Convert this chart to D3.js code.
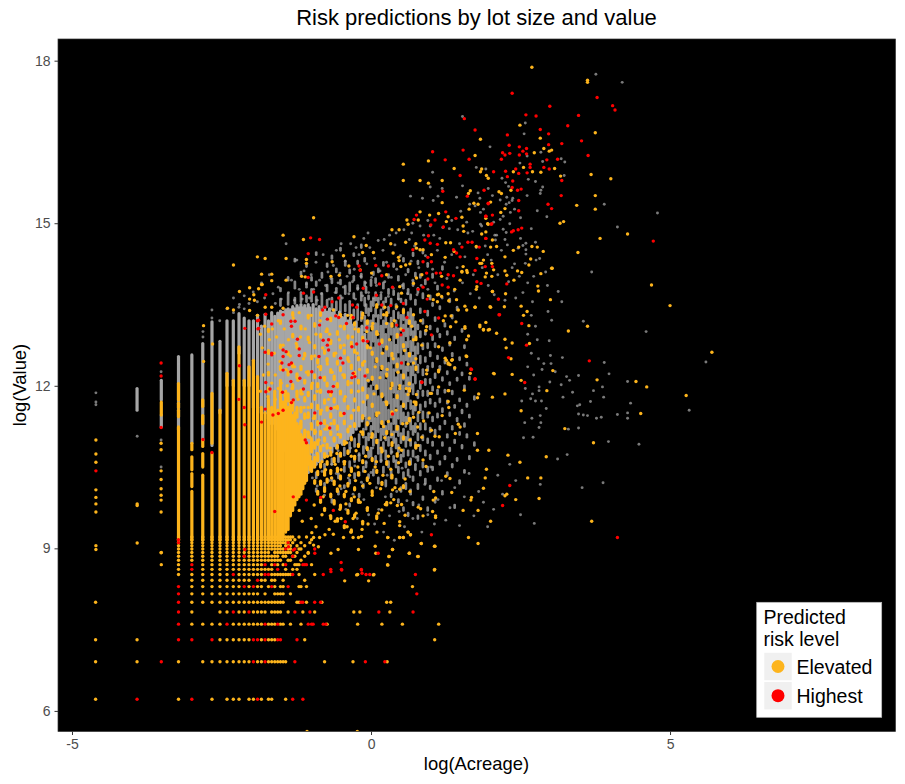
<!DOCTYPE html>
<html>
<head>
<meta charset="utf-8">
<script src="https://cdn.jsdelivr.net/npm/d3@7"></script>
<style>
html,body{margin:0;padding:0;background:#fff;}
svg{display:block;font-family:"Liberation Sans",Arial,sans-serif;}
</style>
</head>
<body>
<svg id="chart" width="905" height="784"></svg>
<script>
// Lot sizes are recorded in hundredths of an acre, values in whole 500-dollar steps at the low end.
const xTicks = [-5, 0, 5];
const yTicks = [6, 9, 12, 15, 18];
const riskLevels = ["Elevated", "Highest"];

// Low-value parcels fall on a regular grid: sale value of each row, and lot sizes (hundredths of an acre) per risk level.
const rowValues = [500,1000,1500,2000,2500,3000,3500,4000,4500,5000,5500,6000,6500,7000,7500,8000,8500,9000,9500,10000];
const rowElevated = [
 [1,4,7,9,10,11,13,14,16,18,19,24],
 [1,2,4,6,7,8,9,10,11,12,13,15,16,18,19,20,21,22,23,24,46,74,131],
 [1,2,8,9,10,11,12,13,16,18,19,20,33,290],
 [5,6,7,8,10,11,12,13,14,15,16,18,19,20,22,23,26,31,48,80,120,169,310],
 [5,8,9,11,12,14,15,16,17,19,20,21,22,25,32,39,75,83,137],
 [1,5,6,7,8,9,10,11,12,13,14,15,16,17,18,19,20,21,22,23,29,30,34,44,130,139],
 [5,6,7,8,9,10,11,12,13,14,15,17,20,21,22,23,26],
 [5,6,7,8,9,10,11,13,15,16,18,20,22,23,30,31,34,200],
 [5,6,7,8,9,10,11,12,13,16,17,19,20,23,33],
 [4,5,6,7,8,9,11,12,13,14,15,16,19,20,21,22,23,24,25,26,30,39,80,105],
 [4,6,7,8,9,10,11,12,13,14,15,16,17,18,19,24,27,29,290],
 [3,4,6,7,8,9,10,11,12,13,14,15,16,19,21,23,28,29,30,37,132],
 [4,5,6,7,8,9,10,11,12,13,14,15,16,17,18,19,20,21,22,25,26,31],
 [4,5,6,7,8,9,10,11,12,13,14,15,16,17,18,19,20,21,23,24,27,28,33],
 [3,4,5,6,7,8,9,10,11,12,13,14,15,16,17,18,20,21,22,23,24,25,26,29,35],
 [4,5,6,7,8,9,10,11,12,13,14,15,16,17,18,19,20,21,22,23,25,26,30,31],
 [4,5,6,7,8,9,10,11,12,13,14,15,16,17,18,19,20,21,22,24,25,26,29,33],
 [4,5,6,7,8,9,10,11,12,13,14,15,16,17,18,19,20,21,22,23,24,25,27,31,36],
 [4,5,6,7,8,9,10,11,12,13,14,15,16,17,18,19,20,21,22,23,24,25,26,28,37],
 [4,5,6,7,8,9,10,11,12,13,14,15,16,17,18,19,20,21,22,23,24,25,26,27,30,34]
];
const rowHighest = [
 [2,5,15,27,32],
 [3,14,17,28,91,126],
 [4,5,7,14,15,17,21,22,29],
 [4,9,17,21,35,37,38,45,47],
 [4,10,13,28,36,114,202],
 [4,31,32,39,43],
 [4,215],
 [4,12,14,19,25],
 [15],
 [10,17,18,27,45,92,98,210],
 [5,21,51,61,85],
 [5,17,20,24,32,33,34],
 [],[12,27],[],[24,28,39],[],[4,25],[],[]
];

// Dense lot-size columns as value extents [lot size, low, high] on the log-value axis.
const grayColumns = [
 [2,11.55,11.95],[3,11.74,12.1],[3,11.24,11.46],[4,11.2,12.54],[5,10.95,12.57],[6,11.0,12.78],
 [7,10.9,13.18],[8,11.5,12.82],[9,12.0,13.2],[10,12.0,13.2],[11,12.6,13.33],[12,12.0,13.25],[13,12.0,13.2],
 [14,11.6,13.2],[15,11.6,13.3],[16,11.5,13.1],[17,11.5,13.32],[18,11.4,13.2],[19,11.3,13.35],[20,11.3,13.28],
 [21,11.2,13.34],[22,11.2,13.38],[23,11,13.36],[24,10.8,13.4],[25,10.8,13.42],[26,10.6,13.4],[27,10.6,13.46],
 [28,10.4,13.42],[29,10.3,13.48],[30,10.2,13.44],[31,10.3,13.5],[32,10.3,13.44],[33,10.3,13.48],[34,10.4,13.42],
 [35,10.4,13.5],[36,10.5,13.44],[38,10.5,13.5],[40,10.55,13.42],[42,10.6,13.46],[44,10.62,13.4],[46,10.7,13.44],
 [48,10.72,13.36],[50,10.8,13.42],[52,10.78,13.34],[54,10.9,13.4],[56,10.85,13.3],[59,10.95,13.36],[62,10.92,13.26],
 [65,11,13.32],[68,11.02,13.2],[71,11.08,13.25],[74,11.14,13.12],[78,11.2,13.18],[82,11.26,13.05],[86,11.35,13.1],[90,11.45,12.95]
];
const elevatedColumns = [
 [3,11.46,11.7],[4,11.74,12.04],[4,11.6,11.68],[4,11.43,11.55],[4,9.15,11.24],
 [5,10.82,10.94],[5,10.45,10.69],[5,10.14,10.38],[5,9.15,10.05],
 [6,11.62,11.74],[6,11.3,11.45],[6,10.88,11.0],[6,10.5,10.75],[6,9.15,10.35],
 [7,10.94,11.86],[7,9.15,10.75],[8,9.15,11.55],[9,9.15,12.23],[10,9.15,12.1],[11,9.15,12.72],
 [12,9.15,12.1],[13,9.15,12.35],[14,9.15,12.47],[15,9.15,12.17],[16,9.15,11.6],[17,9.15,11.5],[18,9.15,11.75],
 [19,9.15,11.6],[20,9.15,11.9],[21,9.15,11.55],[22,9.15,12.1],[23,9.2,11.7],[24,9.3,11.9],[25,9.35,11.6],
 [26,9.6,11.7],[27,9.7,11.45],[28,9.8,11.5],[29,9.9,11.3],[30,9.95,11.25],[31,10.0,11.1],[32,10.1,11.05],[33,10.2,10.95],[34,10.25,10.9],[36,10.45,10.7]
];

// Speckle around and beside the solid block: short runs along a lot-size column as low,high pairs.
const grayRuns = [
 [22,[13.48,13.6,13.75,13.8]],[25,[13.5,13.7,13.95,14.0]],[28,[13.52,13.62,13.8,13.92,14.3,14.34]],[31,[13.55,13.72,14.05,14.1]],
 [34,[13.55,13.66,13.82,13.9,14.2,14.24]],[37,[13.56,13.78,13.95,14.0]],[40,[13.5,13.64,13.85,13.92,14.42,14.46]],[44,[13.46,13.7,14.0,14.08]],
 [48,[13.46,13.58,13.75,13.86,14.2,14.25]],[52,[13.42,13.62,13.9,13.98,14.35,14.4]],[56,[13.4,13.55,13.72,13.8,14.1,14.16]],[60,[13.36,13.66,13.88,13.95,14.5,14.54]],
 [65,[13.38,13.5,13.7,13.84,14.22,14.3]],[70,[13.3,13.56,13.75,13.9,14.08,14.14]],[75,[13.25,13.4,13.62,13.7,13.95,14.02,14.4,14.44]],[80,[13.22,13.5,13.78,13.85,14.25,14.3]],[85,[13.2,13.36,13.58,13.72,14.0,14.06,14.55,14.6]],[90,[13.02,13.28,13.48,13.62,13.85,13.92,14.3,14.35]],
 [40,[10.3,10.4,10.05,10.1]],[46,[10.42,10.55,10.15,10.2]],[52,[10.55,10.65,10.25,10.3,9.85,9.9]],[58,[10.6,10.72,10.3,10.38,10.0,10.05]],[64,[10.72,10.85,10.42,10.5,10.12,10.16]],[70,[10.78,10.95,10.5,10.6,10.2,10.26,9.78,9.82]],[76,[10.88,11.02,10.6,10.7,10.3,10.38]],[82,[10.92,11.1,10.62,10.75,10.35,10.4,9.95,10.0]],[88,[11.05,11.2,10.75,10.88,10.42,10.5,10.12,10.18]],
 [92,[10.5,10.6,10.85,11.05,11.2,11.6,11.75,12.85,13.0,13.18,13.35,13.5,13.72,13.82]],
 [96,[10.3,10.36,10.68,10.8,11.0,11.12,11.3,11.95,12.08,12.72,12.85,13.2,13.3,13.42,13.6,13.66]],
 [100,[10.7,10.85,11.1,11.25,11.35,12.0,12.12,12.98,13.1,13.2,13.38,13.55,13.85,13.95]],
 [104,[10.35,10.45,10.9,11.1,11.2,11.9,12.02,12.7,12.82,13.3,13.48,13.6,14.05,14.1]],
 [108,[10.55,10.7,11.05,11.4,11.52,12.4,12.52,13.15,13.28,13.42,13.58,13.72,13.9,13.98]],
 [113,[10.2,10.3,10.75,11.0,11.15,11.8,11.95,12.85,13.0,13.3,13.5,13.62,14.1,14.16]],
 [118,[10.6,10.85,11.0,11.2,11.32,12.25,12.38,13.1,13.25,13.4,13.6,13.68]],
 [123,[10.4,10.5,10.8,10.95,11.1,11.7,11.82,12.6,12.72,13.2,13.42,13.55,13.8,13.9,14.22,14.28]],
 [128,[10.15,10.25,10.65,10.8,11.0,11.25,11.38,12.1,12.22,12.95,13.08,13.3,13.55,13.62]],
 [134,[10.5,10.6,10.9,11.05,11.2,11.55,11.68,12.42,12.55,13.15,13.35,13.45,13.7,13.78,14.0,14.05]],
 [140,[9.95,10.0,10.3,10.45,10.75,10.85,11.05,11.3,11.42,11.95,12.08,12.8,12.95,13.25,13.5,13.6]],
 [146,[10.6,10.7,10.95,11.15,11.3,11.75,11.88,12.3,12.42,13.05,13.2,13.38,13.68,13.75,14.2,14.25]],
 [152,[10.2,10.28,10.5,10.62,10.85,11.02,11.15,11.5,11.62,12.15,12.28,12.75,12.88,13.2,13.42,13.5]],
 [158,[9.85,9.9,10.4,10.5,10.78,10.9,11.08,11.25,11.4,11.9,12.02,12.5,12.62,13.05,13.25,13.35,13.6,13.7,13.95,14.02]],
 [165,[10.05,10.12,10.6,10.72,10.95,11.12,11.3,11.62,11.75,12.2,12.32,12.9,13.02,13.3,13.55,13.6]],
 [172,[9.7,9.75,10.3,10.4,10.7,10.82,11.0,11.2,11.35,11.5,11.65,12.0,12.12,12.55,12.68,13.12,13.22,13.42,13.8,13.88,14.3,14.35]],
 [179,[10.1,10.2,10.5,10.58,10.88,11.05,11.25,11.42,11.58,11.85,12.0,12.35,12.48,12.8,12.92,13.25,13.5,13.58]],
 [186,[9.6,9.65,10.35,10.45,10.72,10.8,11.0,11.15,11.35,11.5,11.72,12.15,12.28,12.6,12.72,13.05,13.15,13.35,13.7,13.78,14.1,14.15]],
 [194,[10.0,10.08,10.55,10.65,10.9,11.02,11.2,11.4,11.58,11.72,11.95,12.35,12.45,12.82,12.94,13.42,13.6,13.68]],
 [202,[9.8,9.85,10.25,10.32,10.7,10.8,11.1,11.25,11.48,11.62,11.85,12.02,12.2,12.55,12.65,13.0,13.1,13.3,13.85,13.92,14.4,14.45]],
 [210,[10.45,10.55,10.85,10.95,11.15,11.3,11.55,11.7,12.05,12.2,12.4,12.72,12.85,13.18,13.5,13.58,14.02,14.08]],
 [219,[9.55,9.6,10.1,10.18,10.62,10.7,11.0,11.12,11.35,11.48,11.78,11.9,12.25,12.38,12.6,12.78,13.05,13.12,13.72,13.8,14.25,14.3]],
 [228,[10.35,10.42,10.8,10.9,11.2,11.3,11.55,11.65,11.95,12.08,12.42,12.55,12.9,13.0,13.35,13.42,14.0,14.05]],
 [238,[9.9,9.95,10.5,10.58,11.0,11.08,11.4,11.52,11.82,11.9,12.2,12.3,12.68,12.78,13.15,13.22,13.62,13.7,14.45,14.5]],
 [248,[10.2,10.28,10.72,10.8,11.2,11.3,11.62,11.7,12.02,12.12,12.45,12.52,12.95,13.02,13.88,13.95]],
 [258,[9.7,9.75,10.42,10.5,10.95,11.02,11.42,11.5,11.82,11.9,12.28,12.36,12.7,12.78,13.3,13.38,14.2,14.26]],
 [269,[10.1,10.15,10.65,10.72,11.15,11.22,11.68,11.75,12.05,12.12,12.55,12.62,13.05,13.1,13.6,13.66]],
 [280,[10.45,10.5,10.9,10.96,11.35,11.42,11.92,11.98,12.35,12.42,12.85,12.92,13.48,13.52,14.0,14.06]],
 [292,[9.85,9.9,11.1,11.18,11.62,11.68,12.15,12.22,12.72,12.78,13.2,13.26]],
 [304,[10.25,10.3,10.75,10.8,11.42,11.48,11.85,11.92,12.5,12.55,13.0,13.05,13.78,13.84]],
 [316,[10.55,10.6,11.2,11.25,11.7,11.76,12.3,12.36,12.9,12.95,13.42,13.46]],
 [330,[10.0,10.05,10.9,10.95,11.52,11.58,12.1,12.15,12.65,12.7,14.15,14.2]],
 [344,[10.65,10.7,11.3,11.35,11.88,11.92,12.42,12.46,13.1,13.15]],
 [358,[10.35,10.4,11.05,11.1,11.68,11.72,12.22,12.26,12.95,13.0]],
 [373,[10.8,10.85,11.45,11.5,12.02,12.06,12.75,12.8,13.55,13.6]],
 [389,[10.5,10.55,11.2,11.25,11.85,11.9,12.55,12.6,13.25,13.3]],
 [405,[9.75,9.8,10.95,11.0,11.6,11.64,12.3,12.34,12.85,12.9]],
 [422,[10.62,10.66,11.35,11.4,12.1,12.14,13.4,13.45]],
 [440,[10.2,10.25,11.1,11.14,11.72,11.76,12.48,12.52]],
 [458,[10.85,10.9,11.5,11.55,12.2,12.24,13.0,13.04]],
 [477,[10.4,10.44,11.25,11.3,11.95,12.0,12.7,12.74]],
 [497,[11.05,11.1,11.62,11.66,12.38,12.42]],
 [518,[10.65,10.7,11.42,11.46,12.12,12.16]],
 [563,[10.9,10.95,11.75,11.8]]
];

// Elevated speckle laid over the gray: same run format.
const elevatedRuns = [
 [18,[11.9,11.96,12.2,12.25,12.6,12.65,13.0,13.04]],[22,[12.3,12.36,12.7,12.75,13.15,13.2]],[25,[11.72,11.85,12.2,12.26,12.58,12.62]],
 [27,[11.55,11.7,11.95,12.02,12.35,12.4,12.9,12.95,13.3,13.35]],[29,[11.42,11.6,11.8,11.9,12.15,12.22,12.7,12.74]],[31,[11.22,11.35,11.52,11.6,11.85,11.92,12.3,12.36,13.05,13.1]],
 [33,[11.05,11.18,11.4,11.48,11.72,11.78,12.05,12.1,12.55,12.6]],[35,[10.55,10.9,11.05,11.15,11.42,11.5,11.82,11.88,12.2,12.26,12.85,12.9,13.25,13.3]],
 [37,[10.42,10.6,10.78,11.02,11.2,11.28,11.6,11.66,11.95,12.02,12.5,12.55]],[39,[10.2,10.25,10.5,10.68,10.85,10.95,11.12,11.18,11.4,11.46,11.75,11.82,12.15,12.2,12.7,12.74,13.1,13.15]],
 [41,[10.0,10.05,10.36,10.42,10.62,10.72,10.92,11.0,11.28,11.34,11.58,11.64,11.98,12.04,12.42,12.48]],[43,[9.85,9.9,10.18,10.24,10.5,10.56,10.8,10.88,11.1,11.16,11.48,11.54,11.88,11.92,12.3,12.36,12.9,12.95,13.3,13.35]],
 [46,[9.7,9.74,10.05,10.12,10.35,10.42,10.68,10.75,10.98,11.04,11.3,11.36,11.68,11.74,12.1,12.16,12.6,12.65]],[48,[10.22,10.28,10.55,10.6,10.85,10.92,11.2,11.26,11.55,11.6,12.0,12.05,12.45,12.5,13.0,13.05]],
 [51,[9.55,9.6,9.95,10.0,10.38,10.44,10.72,10.78,11.1,11.15,11.42,11.48,11.82,11.88,12.25,12.3,12.78,12.84,13.2,13.25]],[54,[9.82,9.88,10.18,10.24,10.6,10.66,10.98,11.04,11.3,11.36,11.7,11.76,12.12,12.18,12.55,12.6]],
 [57,[9.5,9.55,10.05,10.1,10.42,10.48,10.85,10.9,11.2,11.26,11.58,11.62,11.98,12.04,12.4,12.45,12.95,13.0]],[60,[9.75,9.8,10.28,10.34,10.7,10.76,11.05,11.1,11.45,11.5,11.85,11.9,12.28,12.34,12.7,12.74,13.28,13.32]],
 [64,[9.38,9.42,9.95,10.0,10.55,10.6,10.92,10.98,11.3,11.35,11.72,11.76,12.15,12.2,12.6,12.65,13.05,13.1]],[68,[9.65,9.7,10.15,10.2,10.75,10.8,11.15,11.2,11.58,11.62,12.02,12.08,12.48,12.52,12.88,12.92]],
 [72,[9.3,9.34,9.88,9.92,10.42,10.48,11.0,11.05,11.4,11.45,11.88,11.92,12.32,12.38,12.75,12.8,13.25,13.3]],[76,[9.58,9.62,10.08,10.12,10.65,10.7,11.25,11.3,11.72,11.76,12.2,12.25,12.62,12.66,13.12,13.16]],
 [81,[9.85,9.9,10.35,10.4,10.88,10.92,11.55,11.6,12.05,12.1,12.48,12.52,13.0,13.04]],[87,[9.45,9.5,10.58,10.62,11.1,11.15,11.4,11.45,11.92,11.96,12.38,12.42,12.85,12.9,13.3,13.34]],
 [94,[9.7,9.74,10.25,10.3,10.82,10.86,11.28,11.32,11.78,11.82,12.25,12.3,12.7,12.74,13.15,13.2]],[102,[10.02,10.06,10.62,10.66,11.08,11.12,11.62,11.66,12.12,12.16,12.58,12.62,13.05,13.1]],
 [110,[9.55,9.6,10.4,10.44,10.95,11.0,11.45,11.5,11.95,12.0,12.45,12.5,12.95,13.0,13.45,13.5]],[120,[10.18,10.22,10.78,10.82,11.3,11.34,11.8,11.85,12.32,12.36,12.8,12.85]],
 [130,[9.8,9.85,10.55,10.6,11.12,11.16,11.65,11.7,12.18,12.22,12.68,12.72,13.3,13.35]],[142,[10.3,10.35,10.9,10.95,11.48,11.52,12.0,12.05,12.55,12.6,13.1,13.15]],
 [155,[10.7,10.75,11.2,11.25,11.78,11.82,12.35,12.4,12.9,12.95]],[172,[10.12,10.16,11.02,11.06,11.62,11.66,12.15,12.2,12.72,12.76,13.35,13.4]],
 [190,[10.55,10.6,11.35,11.4,11.9,11.95,12.55,12.6,13.15,13.2]],[212,[10.85,10.9,11.65,11.7,12.3,12.35,12.85,12.9]]
];

// Individually read parcels, stored as flat acreage,value pairs on the log scales.
const grayPoints = [
 3.76,17.75,4.2,17.6,1.53,16.97,2.58,16.85,2.56,16.65,1.99,16.41,2.61,16.24,2.84,16.31,2.87,16.14,3.18,16.19,3.24,16.13,2.49,16.11,1.76,16.03,1.92,16,1.03,15.94,2.19,15.83,2.63,15.81,2.75,15.77,3.23,15.88,2.25,15.75,2.87,15.67,2.84,15.61,2.83,15.55,2.3,15.68,1.53,15.69,1.19,15.64,.99,15.67,1.96,15.64,.66,15.5,.86,15.46,1.12,15.5,1.04,15.42,1.43,15.48,1.79,15.56,1.82,15.46,2.03,15.51,2.61,15.51,2.27,15.48,2.37,15.46,2.36,15.42,2.16,15.43,2.31,15.38,2.26,15.35,2.78,15.23,2.94,15.12,3.9,15.35,4.79,15.19,4.12,14.93,2.4,15.26,2.33,15.2,2.21,15.13,2.16,15.07,2.32,14.99,1.83,15.2,1.88,15.26,1.74,15.32,1.83,14.98,2.07,14.78,2.08,14.69,2.24,14.7,2.21,14.89,2.26,14.83,2.59,14.63,2.54,14.59,2.46,14.54,2.59,14.51,2.59,14.43,2.82,14.35,2.76,14.32,2.58,14.26,
 3.69,14.1,3.13,13.74,3.19,13.55,2.96,13.37,3.02,13.21,3.55,13.19,4.6,13,2.98,12.83,3,12.56,3.2,12.52,2.89,12.41,3.01,12.41,2.86,12.3,3.08,12.26,3.9,12.43,3.98,12.22,3.47,12.19,3.27,12.17,3.32,12.1,2.99,12.07,3.18,12.02,2.81,11.98,2.81,11.91,3.37,11.88,3.72,11.91,3.87,11.98,4.29,12.08,3.89,11.79,3.21,11.79,2.67,11.76,2.75,11.72,2.85,11.72,3.67,11.71,4.34,11.68,3.45,11.63,3.49,11.65,2.93,11.58,5.32,11.55,5.6,12.44,3.47,11.48,3.55,11.46,3.62,11.45,3.77,11.4,3.85,11.42,4.12,11.47,4.29,11.5,4.29,11.4,2.83,11.45,2.84,11.32,2.81,11.23,2.69,11.4,2.57,11.32,2.55,11.04,2.71,11.05,3.3,11.2,3.47,11.22,3.97,10.97,4.48,10.92,3.12,10.65,3.28,10.73,3.88,10.21,3.53,10.12,2.83,10.18,2.73,9.46,
 // upper fringe of the core
 -2.3,13.62,-2.2,13.5,-2.12,13.66,-2.04,13.52,-1.97,13.73,-1.9,13.55,-1.83,13.9,-1.78,13.62,-1.7,14.05,-1.64,13.7,-1.6,13.52,-1.55,13.82,-1.5,13.6,-1.42,14.62,-1.38,13.72,-1.33,13.95,-1.28,13.58,-1.24,14.32,-1.2,13.78,-1.15,13.6,-1.12,14.12,-1.08,13.88,-1.03,13.62,-1.0,14.05,-.96,13.78,-.92,14.28,-.9,13.58,-.86,13.95,-.83,13.7,-.8,14.42,-.76,13.85,-.72,14.1,-.7,13.6,-.67,13.98,-.63,14.22,-.6,13.72,-.58,14.5,-.55,13.9,-.52,14.08,-.48,13.62,-.46,13.82,-.43,14.3,-.4,14.02,-.37,13.7,-.34,14.62,-.31,13.92,-.28,14.15,-.26,13.6,-.22,13.8,-.2,14.42,-.17,14.02,-.14,13.66,-.12,14.72,-.09,13.9,-.07,14.25,-.04,13.72,-.02,14.55,.01,14.0,.04,13.62,.06,14.35,.09,13.85,.12,14.68,.15,14.12,.17,13.72,.2,14.5,.23,13.92,.26,14.28,.29,13.65,.31,14.78,.34,14.0,.37,13.8,.4,14.6,.43,14.15,.46,13.6,.49,14.4,.52,13.85,.55,14.88,.58,14.05,.61,13.7,.64,14.7,.67,14.3,.7,13.95,.73,14.58,.77,13.68,.8,14.18,.84,13.85,.88,14.78,.91,14.4,.95,13.78,.99,14.95,1.03,14.15,1.07,13.9,1.11,14.5,1.15,14.72,1.19,13.62,1.23,14.28,1.27,13.98,1.31,14.9,1.35,14.42,1.39,13.75,1.44,14.18,1.48,14.62,1.53,13.9,1.57,14.38,1.62,14.82,1.66,13.7,1.71,14.05,1.76,14.55,1.81,13.62,1.86,14.18,1.91,14.58,1.96,13.85,2.01,14.32,2.06,13.68,2.12,14.05,2.18,14.5,2.24,13.58,2.3,13.92,2.36,14.18,2.42,13.62,2.48,14.02,2.54,13.72,2.62,13.9,2.7,13.55,
 1.7,14.85,1.85,14.95,1.95,14.42,2.1,14.78,2.28,14.6,2.4,14.25,2.5,14.72,1.45,14.88,1.6,15.02,1.2,14.92,1.05,14.78,.82,14.95,.68,14.82,.42,14.82,.22,14.7,-.05,14.82,-.25,14.55,-.5,14.62,.7,15.0,.95,15.05,1.35,15.05,1.5,15.22,1.65,15.35,2.05,15.02,2.5,15.1,2.68,14.9,2.75,14.65,2.92,14.1,2.95,13.85,2.72,14.02,2.68,13.3,2.75,13.1,2.62,12.95,2.78,12.85,2.68,12.6,2.8,12.5,2.62,12.35,2.72,12.2,2.58,11.95,2.7,11.85,2.52,11.72,
 // lower fringe under the core and lower-right tail
 -1.05,10.55,-.98,10.3,-.95,10.72,-.9,10.15,-.86,10.62,-.82,10.42,-.78,9.98,-.75,10.75,-.7,10.25,-.66,10.55,-.62,9.88,-.58,10.38,-.55,10.8,-.5,10.1,-.46,10.6,-.42,9.72,-.38,10.3,-.34,10.85,-.3,10.0,-.27,10.52,-.23,9.55,-.2,10.72,-.16,10.22,-.12,9.9,-.08,10.58,-.04,9.62,0,10.4,.03,10.85,.06,9.45,.09,10.12,.13,9.72,.17,10.62,.21,9.3,.24,9.95,.27,10.35,.31,9.6,.35,10.78,.39,9.15,.43,10.05,.47,9.68,.52,10.48,.56,9.4,.6,9.88,.65,10.32,.7,9.55,.75,10.68,.8,9.8,.85,9.3,.9,10.18,.95,9.62,1.0,10.5,1.06,9.45,1.12,9.9,1.18,10.25,1.25,9.52,1.32,9.75,1.4,10.12,1.48,9.42,1.56,9.95,1.64,10.38,1.72,9.6,1.8,10.05,1.88,9.85,1.95,9.4,2.05,9.72,2.12,10.35,2.2,10.0,2.32,10.55,2.42,10.25,2.5,9.62,
 // thin parcels left of the core
 -4.6,11.87,-4.6,11.7,-4.6,11.65,-3.91,11.07,-3.51,12.26,-3.51,11.0,-3.51,10.5,-3.22,12.4,-2.81,13,-2.81,12.9,-2.66,13.4,-2.66,13.25,-2.53,13.2,-2.41,13.42,-2.3,13.35,-2.21,13.45,-2.12,13.42
];

const elevatedPoints = [
 2.69,17.88,3.62,17.64,3.62,17.6,3.75,16.67,2.49,16.81,1.83,16.55,1.74,16.25,2.83,16.57,2.73,16.3,2.89,16.38,2.98,16.33,3.02,16.35,1.39,16.01,.96,16.15,.54,16.09,.54,15.79,.82,15.79,1.19,15.79,.96,15.74,3.07,16.01,2.84,15.94,2.7,15.95,2.55,16.03,2.38,15.95,1.85,16,1.83,15.95,1.93,15.88,1.96,15.83,3.17,15.87,3.68,15.9,4.01,15.82,3.75,15.51,3.44,15.33,3.75,15.26,3.16,15,3.22,15.03,3.83,14.72,4.29,14.8,3.46,14.46,3.03,14.17,
 1.66,15.6,1.63,15.55,2.14,15.58,2.18,15.55,2.34,15.61,1.64,15.26,1.72,15.37,1.79,15.35,2.0,15.39,2.24,15.27,2.17,15.2,1.92,15.09,1.96,14.98,1.92,14.84,1.85,14.8,1.76,14.57,2.0,14.56,2.1,14.57,2.69,14.57,2.78,14.56,2.47,14.56,2.38,14.5,2.88,14.48,2.67,14.34,2.24,14.38,2.02,14.26,1.85,14.26,
 .6,15.06,.62,14.98,.82,15.21,.98,15.15,.79,15.06,1.13,15.18,1.19,15.38,1.29,15.12,1.26,15.03,1.52,15.11,1.54,14.95,1.55,14.85,1.95,14.99,2.03,14.69,1.25,14.64,1.33,14.64,.75,14.62,.76,14.54,.82,14.51,.87,14.51,.35,14.88,.47,14.88,.33,14.62,.58,14.65,-.08,14.59,-.14,14.46,.04,14.46,.37,14.45,.46,14.37,.47,14.31,.5,14.2,.58,14.23,.65,14.25,.26,14.05,-.18,14.14,.01,14.08,1.24,14.37,1.39,14.48,1.54,14.2,1.6,14.13,1.52,14.11,1.18,14.02,.76,13.99,.48,13.83,.51,13.71,.71,13.89,.85,14.05,1.01,14.42,1.18,13.65,1.11,13.68,1.04,13.59,1.43,13.59,1.49,13.95,1.77,13.83,1.93,14.08,1.88,14.32,1.82,14.26,2.05,14.14,2.03,13.74,1.99,13.46,1.6,13.4,1.74,13.45,1.46,13.4,1.57,13.09,1.82,13.09,1.88,13.03,1.96,13.03,2.1,12.97,1.6,12.85,1.32,12.79,1.13,12.72,.85,12.75,.71,12.85,.93,13.09,.92,13.02,.71,13.31,.43,13.46,.26,13.15,.21,13.31,1.24,12.51,1.29,12.42,1.36,12.48,1.32,12.39,1.13,12.29,.93,12.29,.93,12.22,1.6,12.54,1.66,12.23,.99,11.86,1.29,11.91,1.56,11.92,.64,12.05,1.8,11.85,2.05,12.23,.71,12.42,
 4.69,13.86,5,13.48,5.7,12.62,5.27,11.82,4.43,12.08,4.61,11.98,4.51,11.49,3.78,12.11,3.72,10.95,3.24,11.21,2.93,10.69,3.3,13.01,3.62,13.1,3,13.59,3.02,14.17,2.84,14.07,2.79,13.84,2.8,13.75,3.69,9.5,2.81,9.92,2.84,10.3,2.62,10.3,2.94,11.91,3.04,12.28,2.51,12.1,2.36,12.21,2.06,12.22,2.51,11.54,2.24,11.85,2.03,11.79,1.78,11.78,2.65,12.78,2.55,13.3,2.61,13.37,2.64,13.11,2.51,13.47,2.24,12.86,2.36,12.79,2.26,12.7,2.34,12.5,2.42,9.9,2.24,9.97,2.27,10,1.68,9.94,1.67,9.89,2.49,10.59,2.29,10.72,1.93,10.46,1.91,10.3,1.88,10.11,1.97,10.81,1.78,10.81,2,9.5,1.79,9.7,1.54,9.7,1.79,9.09,1.63,9.2,1.06,9.04,.84,9.09,.64,8.91,.36,8.98,.3,8.85,.78,8.85,.48,9.2,.54,9.2,.28,9.2,.66,9.25,.62,9.3,
 1.26,12.47,1.35,12.47,1.29,12.4,1.59,12.55,1.4,12.33,1.13,12.26,1.13,11.98,1.3,11.91,1.01,11.86,.76,11.84,.62,11.84,.48,11.95,.48,12,.64,12.03,1.29,11.71,1.3,11.6,.97,11.5,.8,11.51,1.19,11.45,.71,11.42,.6,11.31,.29,11.34,.78,11.24,1.01,11.18,1.46,11.29,1.49,11.24,1.41,11.12,1.78,11.12,1.07,11.07,1.14,11.06,.85,11.05,.23,11.04,.51,10.81,.46,10.58,.87,10.63,.92,10.51,.33,10.46,.57,10.28,1.25,10.33,1.32,10.29,.48,10.09,.4,10.12,.36,10.08,.65,10.05,1.05,10.05,1.35,10.03,1.04,9.89,1.08,9.93,.38,9.9,.33,9.84,.24,9.81,.51,9.81,.44,9.79,.79,9.76,.83,9.73,1.03,9.68,1.08,9.6,1.08,9.57,.87,9.6,.57,9.61,.48,9.49,.48,9.42,.22,9.46,.18,9.71,
 1.82,13.12,1.92,13.17,1.88,13.04,1.98,13.04,1.63,12.92,1.57,13.06,1.42,13.18,1.33,13.09,1.21,13.2,1.24,13.29,1.34,13.29,1.74,13.45,2,13.45,2.23,13.46,1.57,13.47,2.25,13.7,1.76,13.78,2.03,13.74,2.24,14.12,2.27,14.04,2.39,13.95,2.45,14.12,2.52,14.09,2.64,14.23,1.91,14.01,2.02,14.02,1.52,14.1,1.61,14.09,1.4,13.78,1.29,13.7,1.13,13.69,.96,13.66,1.11,13.55,1.3,13.57,
 // fringe above the stripes
 -2.8,13.11,-2.4,13.43,-2.3,13.4,-2.2,13.74,-2.03,13.81,-2.03,13.6,-1.96,13.68,-1.95,13.58,-1.88,13.79,-1.82,13.87,-2.03,13.39,-1.77,13.45,-1.66,13.45,-1.47,13.43,-2.65,12.77,-2.8,12.45,-.96,15.1,-1.47,14.78,-1.13,14.7,-.285,14.75,-1.9,14.38,-1.77,14.35,-1.42,14.35,-2.3,14.23,-1.08,14.33,-1.08,14.26,-.65,14.29,-.46,14.4,-1.83,14.06,-1.66,14.06,-1.66,13.94,-1.83,13.87,-1.42,13.95,-1.16,14.02,-1.1,14.01,-.67,14.02,-.53,14.04,-.37,14.21,
 // core overlay
 -1.9,13.3,-1.85,12.95,-1.82,12.7,-1.78,13.1,-1.72,12.4,-1.7,12.85,-1.65,13.05,-1.62,12.6,-1.6,12.2,-1.58,12.9,-1.55,13.2,-1.52,12.45,-1.5,12.05,-1.47,12.75,-1.45,13.05,-1.42,12.3,-1.4,12.0,-1.38,12.85,-1.35,12.55,-1.32,11.95,-1.3,13.25,-1.28,12.35,-1.25,12.78,-1.22,12.1,-1.2,13.35,-1.18,12.9,-1.15,11.85,-1.13,12.5,-1.1,13.05,-1.08,12.25,-1.05,11.6,-1.03,12.8,-1.0,13.3,-.98,12.05,-.96,11.4,-.94,12.55,-.92,12.95,-.9,11.9,-.88,12.35,-.85,13.2,-.83,11.55,-.81,12.7,-.79,12.15,-.77,11.2,-.75,13.0,-.73,12.4,-.71,11.75,-.69,12.95,-.67,11.3,-.65,12.25,-.63,13.4,-.61,11.6,-.59,12.6,-.57,12.0,-.55,11.1,-.53,12.85,-.51,13.1,-.49,11.45,-.47,12.2,-.45,12.75,-.43,11.8,-.41,10.95,-.39,13.3,-.37,12.45,-.35,11.25,-.33,12.05,-.31,12.9,-.29,11.55,-.27,13.05,-.25,10.8,-.23,12.6,-.21,11.9,-.19,12.3,-.17,11.15,-.15,13.25,-.13,11.7,-.11,12.45,-.09,10.7,-.07,13.0,-.05,12.1,-.03,11.4,-.01,12.7,.01,11.05,.03,13.15,.05,11.85,.07,12.35,.09,10.6,.11,12.95,.13,11.5,.15,12.15,.17,10.85,.19,12.6,.21,11.25,.23,13.45,.25,11.7,.27,12.3,.29,10.7,.31,12.85,.33,11.95,.35,11.1,.37,12.5,.39,13.2,.42,11.55,.45,12.25,.47,10.85,.5,13.05,.53,11.3,.56,12.65,.59,11.95,.62,12.4,.65,11.0,.68,13.1,.72,11.7,.75,12.5,.79,10.9,.83,13.2,.88,11.35,
 -1.85,11.9,-1.8,12.2,-1.72,11.8,-1.66,12.05,-1.6,11.75,-1.55,11.95,-1.5,11.7,-1.44,11.82,-1.4,11.6,-1.34,11.7,-1.26,11.45,-1.22,11.75,-1.18,11.3,-1.12,11.6,-1.1,11.15,-1.06,11.42,-1.02,11.05,-1,11.3,-.97,10.9,-.93,11.15,-.9,10.75,-.87,11.0,-.82,10.6,-.8,10.9,-.76,10.45,-.73,10.7,-.68,10.85,-.66,10.3,-.6,10.55,-.57,10.75,-.52,10.15,-.5,10.45,-.44,10.6,-.42,10.05,-.36,10.35,-.33,10.7,-.28,9.95,-.26,10.25,-.22,10.5,-.18,9.85,-.14,10.15,-.1,10.42,-.06,9.75,-.02,10.2,.02,9.98,.07,10.5,.12,9.65,.16,10.1,.2,10.35,
 // scattered near the low-value edge
 .28,9.2,.48,9.2,.54,9.2,.62,9.3,.66,9.25,.84,9.09,1.07,9.04,.07,9.04,.36,8.98,.3,8.85,.28,8.69,.64,8.91,.79,8.85,1.06,8.6,.08,8.91,-.16,9.22,-.21,9.2,-.3,9.2,-.46,9.2,-.34,9.3,-.63,9.26,-.77,9.25,-.86,9.2,-.99,9.29,-.96,9.2,-.55,8.98,-.21,8.98,-.67,8.91,-.88,9.03,-.96,9.06,-1.05,8.91,-.24,8.51,.04,8.51,-.04,8.4,-.44,8.4,-1.07,5.62,-.23,5.62,
 -1.0,9.55,-.92,9.4,-.82,9.62,-.7,9.35,-.6,9.5,-.52,9.72,-.4,9.4,-.3,9.55,-.15,9.35,-.05,9.45,.1,9.3,-1.15,9.5,-1.2,9.7,-.95,9.8,-.8,9.95,-.68,9.6,-.5,9.55,-.42,9.82,-.25,9.65,
 // isolated low-density lot sizes
 -4.6,11,-4.6,10.74,-4.6,10.59,-4.6,10.08,-4.6,9.94,-4.6,9.82,-4.6,9.67,-4.6,9.05,-4.6,8.98,-3.91,9.79,-3.91,9.82,-3.91,9.1,-3.51,10.94,-3.51,10.82,-3.51,10.43,-3.51,10.27,-3.51,10.1,-3.51,9.98,-3.51,9.89,-3.51,9.67,-3.51,8.92
];

const highestPoints = [
 2.36,17.4,2.99,17.16,3.78,17.32,4.04,17.17,4.08,17.09,3.47,16.99,2.59,17,2.76,16.98,1.56,16.93,3.29,16.8,1.74,16.72,2.83,16.73,2.97,16.65,2.28,16.63,3.52,16.52,3.19,16.47,2.31,16.44,2.97,16.45,2.48,16.41,2.6,16.38,2.54,16.33,2.6,16.28,1.54,16.35,1.03,16.32,1.24,16.17,1.64,16.18,2.2,16.3,2.24,16.26,2.32,16.29,2.48,16.26,2.18,16.18,3.63,16.25,3.12,16.18,2.94,16.17,2.66,16.09,2.66,16.03,2.89,16.03,2.98,16,2.42,16,2.25,15.96,2.47,15.92,2.61,15.93,2.05,15.95,1.49,15.88,2.28,15.86,2.37,15.78,3.19,15.79,2.36,15.66,2.45,15.61,2.51,15.63,1.89,15.61,1.2,15.59,1.61,15.5,2.47,15.42,3.18,15.51,2.96,15.35,3.02,15.27,1.96,15.36,2.47,15.23,2.03,15.15,1.92,15.13,2.01,14.98,2.52,14.91,2.46,14.88,2.38,14.86,2.35,14.84,1.92,14.72,4.72,14.67,
 -1.76,13.68,-1.76,13.32,-1.9,13.2,-1.89,13.05,-1.66,13.14,-1.47,13.31,-1.34,13.19,-1.27,13.19,-1.33,13.1,-.86,13.12,-1.23,12.86,-1.47,12.66,-1.42,12.63,-1.2,12.68,-1.2,12.56,-1.47,12.54,-1.37,12.39,-1.33,12.42,-1.34,12.26,-1.49,12.42,-1.47,12.29,-1.01,14.73,-.86,14.7,-1.05,14.44,
 -.99,12.26,-.87,12.54,-.71,12.66,-.73,12.75,-.8,12.84,-.71,12.85,-.73,13.23,-.81,13.4,-.77,13.45,-.59,13.29,-.54,13.26,-.41,13.15,-.3,13.26,-.54,13.62,-.65,13.55,-.31,13.49,-.24,13.45,-.13,13.8,.14,13.88,.18,14.03,-.18,14.13,-.2,14.21,.08,14.22,.29,14.21,.36,13.82,.54,13.52,.33,13.48,.18,13.49,.09,13.67,-.96,13.73,-1.13,13.71,-1.05,14,-.07,13.07,-.06,12.82,-.13,12.83,-.24,12.77,-.32,12.72,.14,12.77,.6,13.26,.43,13.12,.54,13.02,.5,12.94,.51,12.42,.85,12.07,1.01,12.94,1.67,12.31,1.74,12.13,1.13,13.25,.9,13.37,.94,13.6,.95,13.97,.87,13.82,.79,13.78,.87,14.29,.95,14.37,1.01,14.29,1.11,14.61,.99,14.63,.9,14.69,1.16,14.08,1.09,14.08,.93,14.08,1.29,14.05,1.38,14.03,1.49,14.38,1.38,14.51,1.43,14.45,1.52,14.56,1.62,14.65,1.69,14.65,1.81,14.56,1.92,14.72,2.02,14.99,1.92,15.13,1.96,15.37,1.77,14.35,1.74,14.13,1.91,14.2,2.03,14.2,1.77,13.92,1.84,13.89,1.19,13.86,1.29,13.82,.76,15.15,1.07,15.06,1.25,15.21,1.42,15.09,1.21,14.93,.96,14.77,1,14.97,.72,15.07,.7,14.51,2.13,13.6,2.14,13.31,
 -1.34,12.08,-1.76,12.06,-1.76,11.89,-1.69,11.94,-1.48,11.88,-1.13,11.94,-.71,11.89,-.66,11.89,-.63,11.99,-.51,12.51,-.47,12.42,-.3,12.23,-.27,12.17,-.1,12.18,-.32,12.15,-.85,12.15,-1.19,12.14,-1.66,12.6,
 -1.3,11.74,-1.33,11.69,-1.77,11.57,-1.64,11.46,-1.55,11.49,-1.47,11.55,-.94,11.5,-.67,11.58,-.84,11.31,-.69,11.22,-.45,11.49,-1.1,11,-1.08,10.95,-1.3,9.95,-.63,9.7,-.43,9.49,-.84,9.94,-1.08,9.89,-1.61,9.68,-1.83,11.33,-2.11,11.28,-2.2,12.37,-2.11,13.06,-1.88,13.21,-1.88,13.06,-1.77,12.62,-1.66,12.57,
 3.65,12.46,4.12,9.2,2.57,12.06,2.32,10.16,2.2,9.79,1.01,9.25,2.3,12.52,2.6,12.75,2.52,13.15,2.15,13.31,2.13,13.6,1.68,12.3,1.74,12.12,2.27,13.88,.85,12.06,.36,11.48,
 .12,8.91,-.49,8.6,-.16,8.6,-.67,8.57,-.5,8.74,-.94,8.91,-1.38,9.03,-2.11,8.98,-1.3,8.97,-.15,8.54,
 -3.51,12.42,-3.51,12.18,-3.51,11.23,-2.81,11.01,-2.66,10.77,-4.6,10.43,-3.22,9.16,-2.21,11.75,-2.12,11.6,-2.12,9.95
];

const pairs = flat => d3.range(0, flat.length, 2).map(i => [flat[i], flat[i + 1]]);
const lotLog = k => Math.log(k / 100);
const unpackRuns = runs => runs.flatMap(([k, ends]) => pairs(ends).map(([lo, hi]) => [k, lo, hi]));

const margin = {left: 58, right: 895.5, top: 39, bottom: 731.5};
const x = d3.scaleLinear().domain([-5.234, 8.77]).range([margin.left, margin.right]);
const y = d3.scaleLinear().domain([5.62, 18.4]).range([margin.bottom, margin.top]);
const riskColor = d3.scaleOrdinal().domain(riskLevels).range(["#fdb41c", "#ff0000"]);

const svg = d3.select("#chart");
svg.append("defs").append("clipPath").attr("id", "panel").append("rect")
  .attr("x", margin.left).attr("y", margin.top)
  .attr("width", margin.right - margin.left).attr("height", margin.bottom - margin.top);

svg.append("rect").attr("x", margin.left).attr("y", margin.top)
  .attr("width", margin.right - margin.left).attr("height", margin.bottom - margin.top)
  .attr("fill", "#000");

const plot = svg.append("g").attr("clip-path", "url(#panel)");

function drawColumns(rows, color, opacity, width) {
  plot.append("g").selectAll("line").data(rows).join("line")
    .attr("x1", d => x(lotLog(d[0]))).attr("x2", d => x(lotLog(d[0])))
    .attr("y1", d => y(d[1])).attr("y2", d => y(d[2]))
    .attr("stroke", color).attr("stroke-opacity", opacity)
    .attr("stroke-width", width).attr("stroke-linecap", "round");
}

// Gray layer: lower-risk parcels, translucent so that overlaps brighten.
drawColumns(grayColumns, "#a6a6a6", 1, 3.2);
drawColumns(unpackRuns(grayRuns), "#a9a9a9", 0.8, 2.7);
plot.append("g").selectAll("circle").data(pairs(grayPoints)).join("circle")
  .attr("cx", d => x(d[0])).attr("cy", d => y(d[1])).attr("r", 1.45)
  .attr("fill", "#a9a9a9").attr("fill-opacity", 0.72);

// Elevated layer.
const elevated = riskColor("Elevated");
drawColumns(elevatedColumns, elevated, 1, 3.2);
drawColumns(unpackRuns(elevatedRuns), elevated, 1, 3.2);

const gridCells = (lists) => rowValues.flatMap((v, i) => lists[i].map(k => [lotLog(k), Math.log(v)]));
plot.append("g").selectAll("circle")
  .data(gridCells(rowElevated).concat(pairs(elevatedPoints))).join("circle")
  .attr("cx", d => x(d[0])).attr("cy", d => y(d[1])).attr("r", 1.7).attr("fill", elevated);

// Highest layer sits on top.
plot.append("g").selectAll("circle")
  .data(gridCells(rowHighest).concat(pairs(highestPoints))).join("circle")
  .attr("cx", d => x(d[0])).attr("cy", d => y(d[1])).attr("r", 1.7).attr("fill", riskColor("Highest"));

svg.append("rect").attr("x", margin.left).attr("y", margin.top)
  .attr("width", margin.right - margin.left).attr("height", margin.bottom - margin.top)
  .attr("fill", "none").attr("stroke", "#333").attr("stroke-width", 0.7);

// Axes
const xAxis = svg.append("g").attr("transform", `translate(0,${margin.bottom})`)
  .call(d3.axisBottom(x).tickValues(xTicks).tickSize(3.5).tickPadding(4).tickFormat(d3.format("d")));
const yAxis = svg.append("g").attr("transform", `translate(${margin.left},0)`)
  .call(d3.axisLeft(y).tickValues(yTicks).tickSize(3.5).tickPadding(4));
[xAxis, yAxis].forEach(a => {
  a.select(".domain").remove();
  a.selectAll(".tick line").attr("stroke", "#333").attr("stroke-width", 1);
  a.selectAll(".tick text").attr("fill", "#4d4d4d").style("font-size", "14px").style("font-family", "inherit");
});
xAxis.selectAll(".tick text").text(d => d < 0 ? "-" + Math.abs(d) : d);

svg.append("text").attr("x", 476.5).attr("y", 25).attr("text-anchor", "middle")
  .style("font-size", "22px").text("Risk predictions by lot size and value");
svg.append("text").attr("x", 476.5).attr("y", 770).attr("text-anchor", "middle")
  .style("font-size", "18.4px").text("log(Acreage)");
svg.append("text").attr("transform", "translate(26,385) rotate(-90)").attr("text-anchor", "middle")
  .style("font-size", "18.4px").text("log(Value)");

// Legend
const legend = svg.append("g");
legend.append("rect").attr("x", 756.7).attr("y", 602.3).attr("width", 125).attr("height", 115)
  .attr("fill", "#fff").attr("stroke", "#bbb").attr("stroke-width", 0.7);
legend.append("text").attr("x", 763.5).attr("y", 624).style("font-size", "19.5px").text("Predicted");
legend.append("text").attr("x", 763.5).attr("y", 646).style("font-size", "19.5px").text("risk level");
riskLevels.forEach((name, i) => {
  const top = 652.8 + i * 29.2;
  legend.append("rect").attr("x", 764.3).attr("y", top).attr("width", 27.4).attr("height", 27.4).attr("fill", "#f0f0f0");
  legend.append("circle").attr("cx", 778).attr("cy", top + 13.7).attr("r", 6.5).attr("fill", riskColor(name));
  legend.append("text").attr("x", 796.5).attr("y", top + 21).style("font-size", "19.5px").text(name);
});
</script>
</body>
</html>
